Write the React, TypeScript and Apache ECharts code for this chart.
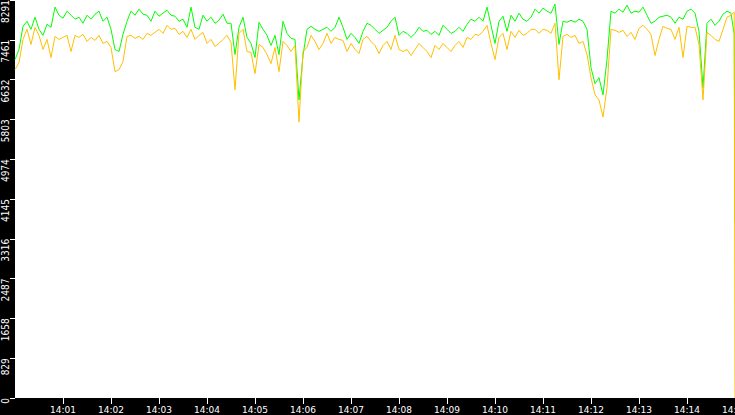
import React, { useEffect, useRef } from "react";
import * as echarts from "echarts";

// seconds after 14:00:00, one sample every 5 s
const stepSeconds = 5;

const greenValues = [
  7050, 7260, 7743, 7848, 7680, 7932, 7680, 7554, 7785, 7722,
  8142, 7974, 7911, 8058, 7974, 7890, 7932, 7806, 7974, 7890,
  7995, 8058, 7848, 7932, 7680, 7260, 7218, 7575, 7848, 8058,
  7974, 8100, 7995, 7974, 7848, 8058, 7953, 8016, 8079, 7974,
  7953, 7848, 7890, 7722, 8142, 7722, 7680, 7974, 7848, 7932,
  7806, 7869, 7995, 7806, 7806, 7155, 7722, 7932, 7512, 7386,
  7092, 7827, 7680, 7554, 7344, 7554, 7155, 7848, 7596, 7491,
  7470, 6210, 7134, 7680, 7743, 7680, 7638, 7680, 7722, 7638,
  7722, 7932, 7722, 7470, 7596, 7512, 7386, 7638, 7806, 7764,
  7680, 7596, 7659, 7722, 7848, 7932, 7554, 7638, 7596, 7512,
  7596, 7722, 7638, 7659, 7575, 7638, 7554, 7764, 7680, 7596,
  7638, 7722, 7638, 7785, 7890, 7848, 7932, 7848, 8142, 7764,
  7386, 7848, 7953, 7638, 7974, 7848, 8016, 7890, 7848, 7932,
  8100, 8016, 8121, 8058, 8016, 8205, 7365, 7848, 7827, 7869,
  7827, 7890, 7848, 7680, 6882, 6546, 6672, 6315, 7050, 8058,
  8016, 8100, 8037, 8184, 8016, 8058, 8037, 8142, 7974, 7806,
  7848, 7932, 7953, 7974, 7932, 7806, 7932, 7890, 8058, 8100,
  8016, 7638, 6462, 7806, 7890, 7764, 7848, 7995, 8058, 8016,
];

const yellowValues = [
  6840, 6987, 7470, 7680, 7365, 7722, 7554, 7260, 7470, 7092,
  7533, 7470, 7512, 7554, 7218, 7554, 7512, 7575, 7428, 7512,
  7449, 7554, 7386, 7428, 7302, 6798, 6840, 7008, 7533, 7554,
  7491, 7533, 7470, 7596, 7554, 7617, 7680, 7596, 7764, 7680,
  7701, 7575, 7638, 7512, 7680, 7470, 7554, 7617, 7386, 7470,
  7323, 7386, 7470, 7554, 7407, 6420, 7596, 7680, 7218, 7197,
  6756, 7365, 7302, 7155, 6966, 7302, 6798, 7428, 7344, 7218,
  7344, 5748, 7218, 7302, 7554, 7428, 7260, 7386, 7596, 7386,
  7512, 7470, 7449, 7218, 7386, 7260, 7176, 7470, 7533, 7428,
  7344, 7176, 7344, 7428, 7260, 7554, 7260, 7218, 7260, 7134,
  7260, 7386, 7302, 7218, 7092, 7344, 7260, 7386, 7302, 7218,
  7344, 7428, 7302, 7512, 7470, 7575, 7554, 7638, 7764, 7386,
  7050, 7512, 7596, 7260, 7638, 7512, 7659, 7554, 7596, 7680,
  7680, 7596, 7680, 7659, 7596, 7806, 6630, 7533, 7575, 7512,
  7554, 7386, 7428, 7155, 6672, 6315, 6210, 5853, 6462, 7680,
  7659, 7617, 7659, 7533, 7617, 7470, 7701, 7764, 7680, 7575,
  7134, 7470, 7743, 7701, 7680, 7470, 7722, 7092, 7743, 7722,
  7722, 7365, 6210, 7617, 7554, 7470, 7428, 7680, 7932, 7974,
];

// final samples where the feed stops
const tailSeconds = [899, 900];
const greenTail = [7575, 3680];
const yellowTail = [8037, 0];

const yTickLabels = ["0", "829", "1658", "2487", "3316", "4145", "4974", "5803", "6632", "7461", "8291"];
const xTickLabels = [
  "14:00", "14:01", "14:02", "14:03", "14:04", "14:05", "14:06", "14:07",
  "14:08", "14:09", "14:10", "14:11", "14:12", "14:13", "14:14", "14:15",
];

const yStep = 829.1;
const yMax = 8291;
const xMax = 900;

function toPairs(values: number[], tail: number[]) {
  const pts: [number, number][] = values.map((v, i) => [i * stepSeconds, v]);
  tailSeconds.forEach((t, i) => pts.push([t, tail[i]]));
  return pts;
}

export default function App() {
  const ref = useRef<HTMLDivElement>(null);
  useEffect(() => {
    if (!ref.current) return;
    const chart = echarts.init(ref.current, null, { renderer: "svg" });
    chart.setOption({
      animation: false,
      backgroundColor: "#000000",
      grid: {
        left: 15,
        right: 0,
        top: 0,
        bottom: 17,
        show: true,
        backgroundColor: "#ffffff",
        borderWidth: 0,
        containLabel: false,
        outerBoundsMode: "none",
      },
      xAxis: {
        type: "value",
        min: 0,
        max: xMax,
        interval: 60,
        axisLine: { show: false },
        splitLine: { show: false },
        axisTick: { show: true, length: 6, lineStyle: { color: "#ffffff", width: 1 } },
        axisLabel: {
          showMinLabel: false,
          showMaxLabel: true,
          hideOverlap: false,
          color: "#ffffff",
          fontFamily: "'DejaVu Sans', sans-serif",
          fontSize: 9,
          margin: 7,
          formatter: (v: number) => xTickLabels[Math.round(v / 60)],
        },
      },
      yAxis: {
        type: "value",
        min: 0,
        max: yMax,
        interval: yStep,
        axisLine: { show: false },
        splitLine: { show: false },
        axisTick: { show: true, length: 5, lineStyle: { color: "#ffffff", width: 1 } },
        axisLabel: {
          rotate: 90,
          align: "right",
          color: "#ffffff",
          fontFamily: "'Liberation Sans Narrow', 'DejaVu Sans Condensed', sans-serif",
          fontSize: 10,
          margin: 5,
          formatter: (v: number) => yTickLabels[Math.round(v / yStep)],
        },
      },
      series: [
        {
          type: "line",
          data: toPairs(greenValues, greenTail),
          symbol: "none",
          lineStyle: { color: "#00ff00", width: 1 },
          itemStyle: { color: "#00ff00" },
        },
        {
          type: "line",
          data: toPairs(yellowValues, yellowTail),
          symbol: "none",
          lineStyle: { color: "#ffc000", width: 1 },
          itemStyle: { color: "#ffc000" },
        },
      ],
    });
    return () => chart.dispose();
  }, []);
  return (
    <div
      ref={ref}
      style={{ position: "absolute", left: 0, top: 0, width: 735, height: 415 }}
    />
  );
}
